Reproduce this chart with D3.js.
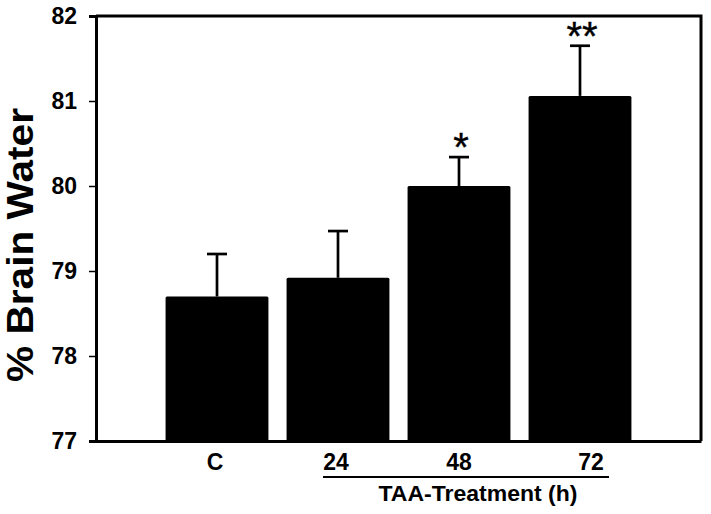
<!DOCTYPE html>
<html>
<head>
<meta charset="utf-8">
<script src="https://cdn.jsdelivr.net/npm/d3@7"></script>
<style>
  html, body { margin: 0; padding: 0; background: #fff; }
  svg { display: block; }
  text { font-family: "Liberation Sans", Arial, sans-serif; fill: #000; }
</style>
</head>
<body>
<div id="chart"></div>
<script>
// ---- data ----
const categories = ["C", "24", "48", "72"];
const means      = [78.7, 78.92, 80.0, 81.06];
const errors     = [0.5, 0.55, 0.34, 0.59];
const signif     = ["", "", "*", "**"];
const yTicks     = [77, 78, 79, 80, 81, 82];
const yLabel     = "% Brain Water";
const groupLabel = "TAA-Treatment (h)";

(function () {
// ---- layout ----
const W = 711, H = 514;
const mLeft = 96, mRight = 701, mTop = 16, mBottom = 441;

const svg = d3.select("#chart").append("svg")
  .attr("width", W).attr("height", H);

// x: category index 1..4 on a 0..5 linear domain
const x = d3.scaleLinear().domain([0, categories.length + 1]).range([mLeft, mRight]);
const y = d3.scaleLinear().domain([77, 82]).range([mBottom, mTop]);
const barW = (x(1) - x(0)) * 0.85;

// bars
svg.selectAll("rect.bar").data(means).join("rect")
  .attr("class", "bar")
  .attr("x", (d, i) => x(i + 1) - barW / 2)
  .attr("y", d => y(d))
  .attr("width", barW)
  .attr("height", d => y(77) - y(d))
  .attr("rx", 1.5)
  .attr("fill", "#000");

// error bars
const capW = 20;
const eg = svg.append("g").attr("stroke", "#000").attr("stroke-width", 2.7);
means.forEach((m, i) => {
  const cx = x(i + 1);
  eg.append("line").attr("x1", cx).attr("x2", cx)
    .attr("y1", y(m)).attr("y2", y(m + errors[i]));
  eg.append("line").attr("x1", cx - capW / 2).attr("x2", cx + capW / 2)
    .attr("y1", y(m + errors[i])).attr("y2", y(m + errors[i]));
});

// significance stars
svg.selectAll("text.sig").data(signif).join("text")
  .attr("class", "sig")
  .attr("x", (d, i) => x(i + 1) + 2)
  .attr("y", (d, i) => y(means[i] + errors[i]) + 4)
  .attr("text-anchor", "middle")
  .attr("font-size", 40)
  .attr("stroke", "#000").attr("stroke-width", 0.4)
  .text(d => d);

// frame (top and right)
svg.append("path")
  .attr("d", `M${mLeft},${mTop}H${mRight}V${mBottom}`)
  .attr("fill", "none").attr("stroke", "#000").attr("stroke-width", 3);

// y axis
const yAxis = svg.append("g")
  .attr("transform", `translate(${mLeft},0)`)
  .call(d3.axisLeft(y).tickValues(yTicks).tickSize(7).tickPadding(12).tickFormat(d3.format("d")));
yAxis.select(".domain").attr("stroke-width", 3);
yAxis.selectAll(".tick line").attr("stroke-width", 1.5);
yAxis.selectAll("text")
  .attr("font-size", 23).attr("font-weight", "bold")
  .attr("font-family", "Liberation Sans, Arial, sans-serif").attr("fill", "#000");

// x axis (baseline only)
const xAxis = svg.append("g")
  .attr("transform", `translate(0,${mBottom})`)
  .call(d3.axisBottom(x).tickValues(categories.map((c, i) => i + 1)).tickSize(0).tickFormat(""));
xAxis.select(".domain").attr("stroke-width", 3);

// category labels
const nudge = [-2, -2, 0, 11];
svg.selectAll("text.cat").data(categories).join("text")
  .attr("class", "cat")
  .attr("x", (d, i) => x(i + 1) + nudge[i])
  .attr("y", 470)
  .attr("text-anchor", "middle")
  .attr("font-size", 23).attr("font-weight", "bold")
  .text(d => d);

// group underline and label
svg.append("line")
  .attr("x1", 323).attr("x2", 609).attr("y1", 477).attr("y2", 477)
  .attr("stroke", "#000").attr("stroke-width", 2);
svg.append("text")
  .attr("x", 478).attr("y", 501)
  .attr("text-anchor", "middle")
  .attr("font-size", 22.5).attr("font-weight", "bold")
  .attr("textLength", 199).attr("lengthAdjust", "spacingAndGlyphs")
  .text(groupLabel);

// y label
svg.append("text")
  .attr("transform", "translate(33,245) rotate(-90)")
  .attr("text-anchor", "middle")
  .attr("font-size", 37).attr("font-weight", "bold")
  .attr("textLength", 274).attr("lengthAdjust", "spacingAndGlyphs")
  .text(yLabel);
})();
</script>
</body>
</html>
